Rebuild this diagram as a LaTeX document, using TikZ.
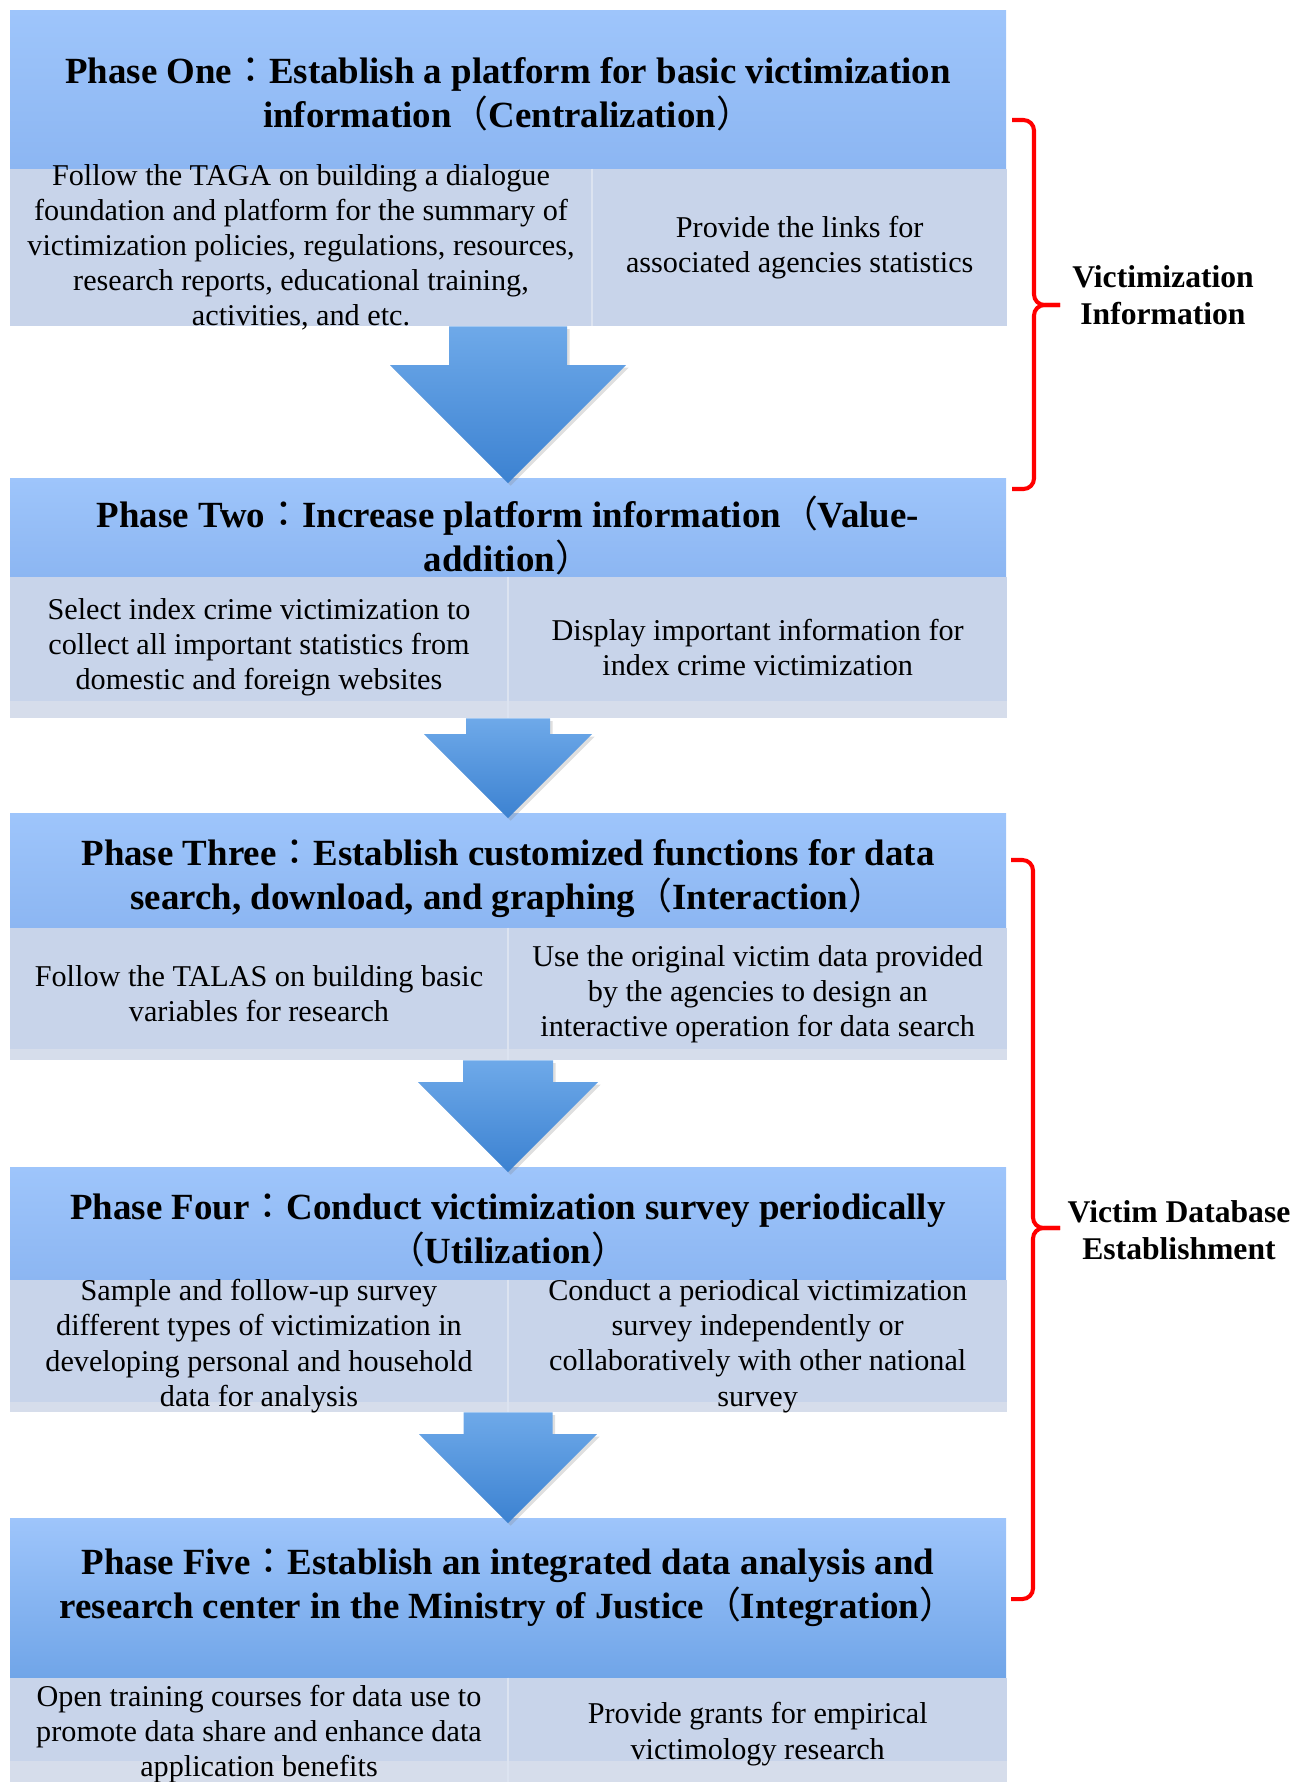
\documentclass[tikz,border=0pt]{standalone}
\usepackage{fontspec}
\setmainfont{Liberation Serif}
\newfontfamily\cjk{Noto Sans CJK TC}
\usetikzlibrary{calc,shadows}
\definecolor{hdtop}{HTML}{9EC5FB}
\definecolor{hdbot}{HTML}{8CB6F2}
\definecolor{hdlow}{HTML}{70A5E8}
\definecolor{cellfill}{HTML}{C8D4EA}
\definecolor{bandfill}{HTML}{D6DDEB}
\definecolor{cellline}{HTML}{DCE3F0}
\definecolor{arrtop}{HTML}{6EA9E9}
\definecolor{arrbot}{HTML}{3C82D1}
\definecolor{bracered}{HTML}{FF0000}

\newdimen\pix \pix=0.02cm
\newcommand{\fcolon}{{\mdseries\cjk ：}}
\newcommand{\lpar}{{\mdseries\cjk （}}
\newcommand{\rpar}{{\mdseries\cjk ）}}

% block arrow: upper header, upper body cell, lower header, half head width
\newcommand{\phasearrow}[4]{%
  \shade[arrowshade]
    ($(#1.south |- #2.south)+(-#4/2,0)$) -- ($(#1.south |- #2.south)+(#4/2,0)$)
    -- ($(#3.north)+(#4/2,5-#4)$) -- ($(#3.north)+(#4,5-#4)$)
    -- ($(#3.north)+(0,5)$)
    -- ($(#3.north)+(-#4,5-#4)$) -- ($(#3.north)+(-#4/2,5-#4)$) -- cycle;}

\begin{document}
\begin{tikzpicture}[
  x=0.02cm, y=-0.02cm,
  hdr/.style={rectangle, inner sep=0pt, minimum width=996*\pix, anchor=north,
              top color=hdtop, bottom color=hdbot},
  hdrtext/.style={align=center, inner sep=0pt,
                  font=\bfseries\fontsize{21}{25.2}\selectfont},
  cell/.style={rectangle, inner sep=0pt, fill=cellfill, anchor=north west},
  celltext/.style={align=center, inner sep=0pt,
                   font=\fontsize{17.2}{20}\selectfont},
  band/.style={fill=bandfill},
  divider/.style={draw=cellline, line width=1pt},
  arrowshade/.style={top color=arrtop, bottom color=arrbot,
                     drop shadow={opacity=0.25, shadow xshift=1.5pt, shadow yshift=-1.5pt}},
  brace/.style={draw=bracered, line width=2.3pt, rounded corners=6pt},
  side/.style={align=center, font=\bfseries\fontsize{18}{21}\selectfont},
]
\useasboundingbox (0,0) rectangle (1309,1782);

% ── Phase One ───────────────────────────────────────────────────────────
\node[hdr, minimum height=158*\pix] (h1) at (508,10) {};
\node[hdrtext] (p1) at ($(h1)+(0,5)$)
  {Phase One\fcolon Establish a platform for basic victimization\\
   information\lpar Centralization\rpar};
\node[cell, minimum width=582*\pix, minimum height=157*\pix] (c1l) at (h1.south west) {};
\node[cell, minimum width=414*\pix, minimum height=157*\pix] (c1r) at (c1l.north east) {};
\draw[divider] (c1l.north east) -- (c1l.south east);
\node[celltext] (t1l) at (c1l)
  {Follow the TAGA on building a dialogue\\ foundation and platform for the summary of\\
   victimization policies, regulations, resources,\\ research reports, educational training,\\
   activities, and etc.};
\node[celltext] (t1r) at (c1r) {Provide the links for\\ associated agencies statistics};

% ── Phase Two ───────────────────────────────────────────────────────────
\node[hdr, minimum height=98*\pix] (h2) at (508,478) {};
\node[hdrtext] (p2) at ($(h2)+(0,8)$)
  {Phase Two\fcolon Increase platform information\lpar Value-\\ addition\rpar};
\node[cell, minimum width=498*\pix, minimum height=141*\pix] (c2l) at (h2.south west) {};
\node[cell, minimum width=498*\pix, minimum height=141*\pix] (c2r) at (c2l.north east) {};
\fill[band] ($(c2l.south west)+(0,-17)$) rectangle (c2r.south east);
\draw[divider] (c2l.north east) -- (c2l.south east);
\node[celltext] (t2l) at (c2l)
  {Select index crime victimization to\\ collect all important statistics from\\
   domestic and foreign websites};
\node[celltext] (t2r) at (c2r) {Display important information for\\ index crime victimization};

% ── Phase Three ─────────────────────────────────────────────────────────
\node[hdr, minimum height=114*\pix] (h3) at (508,813) {};
\node[hdrtext] (p3) at ($(h3)+(0,8)$)
  {Phase Three\fcolon Establish customized functions for data\\
   search, download, and graphing\lpar Interaction\rpar};
\node[cell, minimum width=498*\pix, minimum height=132*\pix] (c3l) at (h3.south west) {};
\node[cell, minimum width=498*\pix, minimum height=132*\pix] (c3r) at (c3l.north east) {};
\fill[band] ($(c3l.south west)+(0,-11)$) rectangle (c3r.south east);
\draw[divider] (c3l.north east) -- (c3l.south east);
\node[celltext] (t3l) at (c3l) {Follow the TALAS on building basic\\ variables for research};
\node[celltext] (t3r) at (c3r)
  {Use the original victim data provided\\ by the agencies to design an\\
   interactive operation for data search};

% ── Phase Four ──────────────────────────────────────────────────────────
\node[hdr, minimum height=112*\pix] (h4) at (508,1167) {};
\node[hdrtext] (p4) at ($(h4)+(0,7)$)
  {Phase Four\fcolon Conduct victimization survey periodically\\ \lpar Utilization\rpar};
\node[cell, minimum width=498*\pix, minimum height=132*\pix] (c4l) at (h4.south west) {};
\node[cell, minimum width=498*\pix, minimum height=132*\pix] (c4r) at (c4l.north east) {};
\fill[band] ($(c4l.south west)+(0,-10)$) rectangle (c4r.south east);
\draw[divider] (c4l.north east) -- (c4l.south east);
\node[celltext] (t4l) at (c4l)
  {Sample and follow-up survey\\ different types of victimization in\\
   developing personal and household\\ data for analysis};
\node[celltext] (t4r) at (c4r)
  {Conduct a periodical victimization\\ survey independently or\\
   collaboratively with other national\\ survey};

% ── Phase Five ──────────────────────────────────────────────────────────
\node[hdr, minimum height=159*\pix, bottom color=hdlow] (h5) at (508,1518) {};
\node[hdrtext] (p5) at ($(h5)+(0,-10)$)
  {Phase Five\fcolon Establish an integrated data analysis and\\
   research center in the Ministry of Justice\lpar Integration\rpar};
\node[cell, minimum width=498*\pix, minimum height=112*\pix] (c5l) at (h5.south west) {};
\node[cell, minimum width=498*\pix, minimum height=112*\pix] (c5r) at (c5l.north east) {};
\fill[band] ($(c5l.south west)+(0,-29)$) rectangle (c5r.south east);
\draw[divider] (c5l.north east) -- (c5l.south east);
\node[celltext] (t5l) at (c5l)
  {Open training courses for data use to\\ promote data share and enhance data\\
   application benefits};
\node[celltext] (t5r) at (c5r) {Provide grants for empirical\\ victimology research};

% ── Block arrows ────────────────────────────────────────────────────────
\phasearrow{h1}{c1l}{h2}{118}
\phasearrow{h2}{c2l}{h3}{84}
\phasearrow{h3}{c3l}{h4}{90}
\phasearrow{h4}{c4l}{h5}{89}

% ── Braces and their labels ─────────────────────────────────────────────
\draw[brace] (1012,120) -- (1034,120) -- (1034,305) -- (1060,305);
\draw[brace] (1060,305) -- (1034,305) -- (1034,489) -- (1012,489);
\node[side] (info) at (1163,295) {Victimization\\ Information};

\draw[brace] (1011,860) -- (1033,860) -- (1033,1228) -- (1060,1228);
\draw[brace] (1060,1228) -- (1033,1228) -- (1033,1599) -- (1011,1599);
\node[side] (dbase) at (1179,1230) {Victim Database\\ Establishment};

\end{tikzpicture}
\end{document}
